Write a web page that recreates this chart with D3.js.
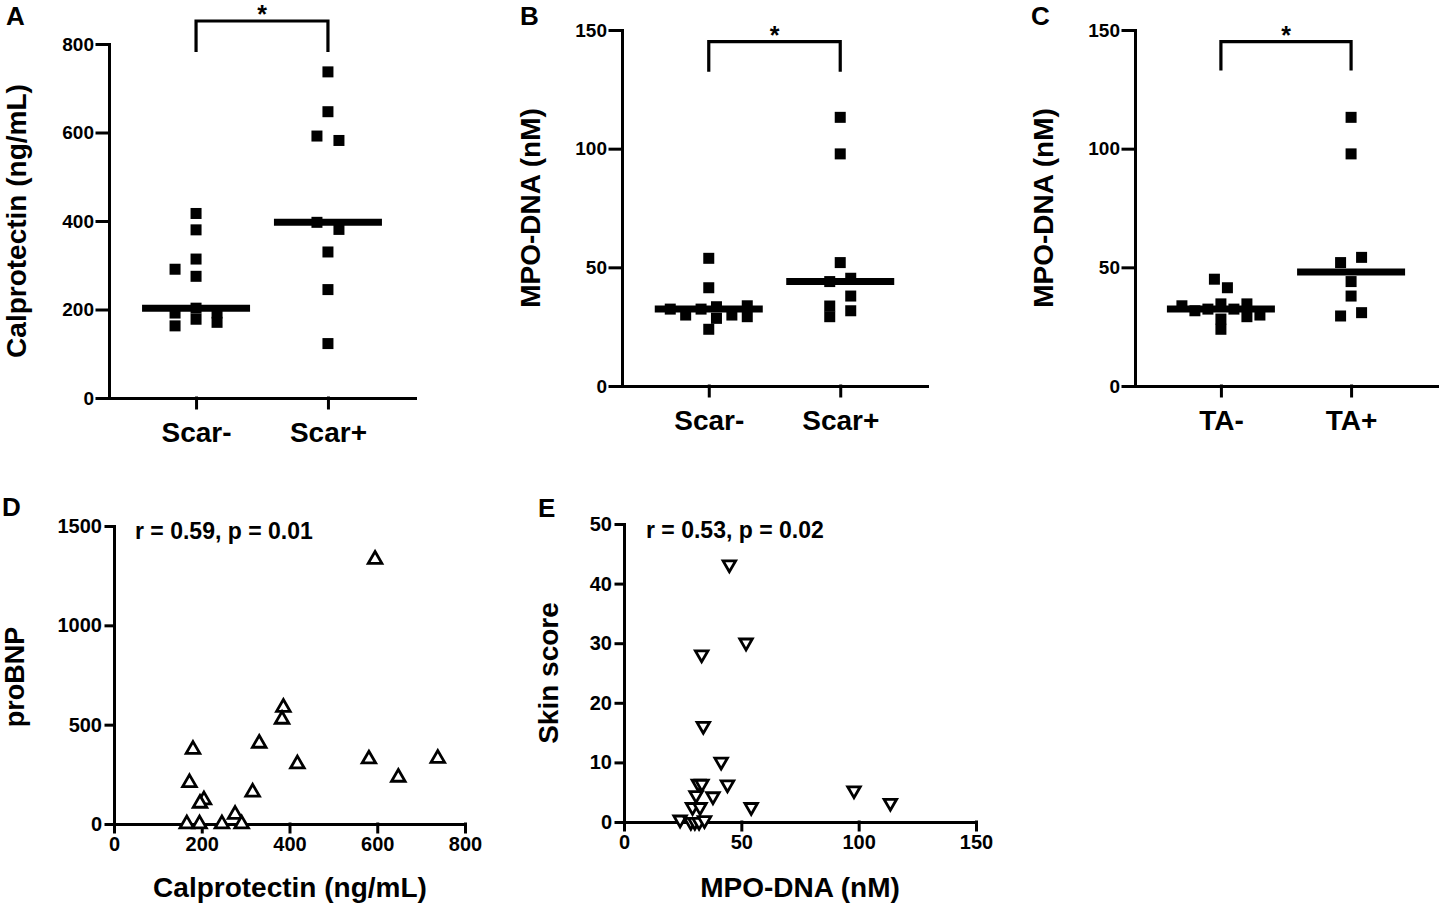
<!DOCTYPE html>
<html lang="en">
<head>
<meta charset="UTF-8">
<title>Calprotectin and MPO-DNA</title>
<script src="https://d3js.org/d3.v7.min.js"></script>
<style>
    body { margin: 0; background: #fff; }
    svg text { font-family: "Liberation Sans", Arial, sans-serif; font-weight: bold; fill: #000; }
    .axis path, .axis line { stroke: #000; stroke-width: 3; stroke-linecap: square; }
    .axis text { font-size: 19px; }
    .axis.big text { font-size: 20px; }
    .axis.cat text { font-size: 28px; }
</style>
</head>
<body>
<svg id="fig" width="1442" height="904"></svg>
<script>
// A: calprotectin, scar- / scar+
const scarGroups = ["Scar-", "Scar+"];
const calproScarNeg = [417, 380, 314, 291, 275, 203, 192, 192, 178, 171, 163];
const calproScarNegSlot = [0, 0, 0, -1, 0, 0, -1, 1, 0, 1, -1];
const calproScarPos = [737, 647, 592, 582, 397, 381, 330, 245, 123];
const calproScarPosSlot = [0, 0, -1, 1, -1, 1, 0, 0, 0];
const calproTicks = [0, 200, 400, 600, 800];

// B: MPO-DNA, scar- / scar+
const mpoScarNeg = [53.8, 41.4, 32.4, 29.9, 32.4, 33.4, 28.5, 29.9, 33.8, 29.2, 23.9];
const mpoScarNegSlot = [0, 0, -5, -3, -1, 1, 1, 3, 5, 5, 0];
const mpoScarPos = [113.2, 97.8, 52.0, 44.0, 45.4, 37.9, 33.7, 29.2, 31.7];
const mpoScarPosSlot = [0, 0, 0, -1, 1, 1, -1, -1, 1];
const mpoTicks = [0, 50, 100, 150];

// C: MPO-DNA, TA- / TA+
const taGroups = ["TA-", "TA+"];
const mpoTaNeg = [45.0, 41.4, 33.8, 31.7, 32.4, 34.6, 32.4, 34.6, 29.2, 29.9, 28.2, 23.9];
const mpoTaNegSlot = [-1, 1, -6, -4, -2, 0, 2, 4, 4, 6, 0, 0];
const mpoTaPos = [113.2, 97.8, 52.0, 54.2, 44.0, 37.9, 29.5, 30.9];
const mpoTaPosSlot = [0, 0, -1, 1, 0, 0, -1, 1];

// D: proBNP vs calprotectin
const dCalpro = [595, 386, 383, 331, 180, 418, 581, 738, 648, 172, 316, 205, 196, 276, 166, 195, 246, 291];
const dProBNP = [1332, 587, 527, 406, 375, 302, 327, 330, 235, 208, 160, 121, 104, 48, 0, 0, 0, 0];
const dXTicks = [0, 200, 400, 600, 800];
const dYTicks = [0, 500, 1000, 1500];

// E: skin score vs MPO-DNA
const eMpo = [44.9, 52.0, 33.1, 33.8, 41.4, 31.7, 33.2, 44.1, 98.0, 37.9, 30.7, 113.5, 54.2, 29.2, 32.4, 23.9, 28.5, 30.2, 32.0, 34.3];
const eSkin = [43.2, 30.1, 28.1, 16.1, 10.1, 6.4, 6.4, 6.3, 5.3, 4.3, 4.5, 3.2, 2.5, 2.5, 2.5, 0.4, 0, 0, 0, 0.3];
const eXTicks = [0, 50, 100, 150];
const eYTicks = [0, 10, 20, 30, 40, 50];

const svg = d3.select("#fig");

function letter(txt, x, y) {
    svg.append("text").attr("x", x).attr("y", y).attr("font-size", 26).text(txt);
}

function yTitle(txt, x, y, size) {
    svg.append("text")
        .attr("transform", `translate(${x},${y}) rotate(-90)`)
        .attr("text-anchor", "middle")
        .attr("font-size", size)
        .text(txt);
}

function dotPanel(cfg) {
    const y = d3.scaleLinear().domain([0, cfg.yMax]).range([cfg.bottom, cfg.top]);
    const x = d3.scalePoint().domain(cfg.groups).range([cfg.left, cfg.right]).padding(0.66);

    svg.append("g").attr("class", "axis")
        .attr("transform", `translate(${cfg.left},0)`)
        .call(d3.axisLeft(y).tickValues(cfg.ticks).tickSize(12).tickPadding(3).tickSizeOuter(0));

    svg.append("g").attr("class", "axis cat")
        .attr("transform", `translate(0,${cfg.bottom})`)
        .call(d3.axisBottom(x).tickSize(10).tickPadding(14).tickSizeOuter(0));

    cfg.series.forEach((s, gi) => {
        const g = cfg.groups[gi];
        svg.append("g").selectAll("rect")
            .data(s.values)
            .join("rect")
            .attr("x", (d, i) => x(g) + s.slots[i] * s.step - 5.5)
            .attr("y", d => y(d) - 5.5)
            .attr("width", 11)
            .attr("height", 11)
            .attr("fill", "#000");

        const med = d3.median(s.values);
        svg.append("line")
            .attr("x1", x(g) - 54).attr("x2", x(g) + 54)
            .attr("y1", y(med)).attr("y2", y(med))
            .attr("stroke", "#000").attr("stroke-width", 7);
    });

    // significance bracket
    const [lo, hi] = cfg.bracket;
    const xa = x(cfg.groups[0]), xb = x(cfg.groups[1]);
    svg.append("path")
        .attr("d", `M${xa},${y(lo)}V${y(hi)}H${xb}V${y(lo)}`)
        .attr("fill", "none").attr("stroke", "#000").attr("stroke-width", 3.2);
    svg.append("text")
        .attr("x", (xa + xb) / 2).attr("y", y(hi) + 2)
        .attr("text-anchor", "middle").attr("font-size", 25)
        .text("*");
}

function scatterPanel(cfg) {
    const x = d3.scaleLinear().domain(cfg.xDomain).range([cfg.left, cfg.right]);
    const y = d3.scaleLinear().domain(cfg.yDomain).range([cfg.bottom, cfg.top]);

    svg.append("g").attr("class", "axis big")
        .attr("transform", `translate(${cfg.left},0)`)
        .call(d3.axisLeft(y).tickValues(cfg.yTicks).tickFormat(d3.format("d"))
            .tickSize(8).tickPadding(4).tickSizeOuter(0));

    svg.append("g").attr("class", "axis big")
        .attr("transform", `translate(0,${cfg.bottom})`)
        .call(d3.axisBottom(x).tickValues(cfg.xTicks).tickFormat(d3.format("d"))
            .tickSize(8).tickPadding(5).tickSizeOuter(0));

    const sym = d3.symbol().type(d3.symbolTriangle).size(cfg.symSize);
    svg.append("g").selectAll("path")
        .data(cfg.xs)
        .join("path")
        .attr("transform", (d, i) => `translate(${x(d)},${y(cfg.ys[i])})${cfg.down ? " rotate(180)" : ""}`)
        .attr("d", sym)
        .attr("fill", "#fff")
        .attr("stroke", "#000")
        .attr("stroke-width", 2.8);

    svg.append("text")
        .attr("x", cfg.noteX).attr("y", cfg.noteY)
        .attr("font-size", 23)
        .text(cfg.note);
}

// A
letter("A", 6, 25);
dotPanel({
    groups: scarGroups, yMax: 800, ticks: calproTicks,
    left: 109, right: 415, top: 44, bottom: 398,
    series: [
        { values: calproScarNeg, slots: calproScarNegSlot, step: 21 },
        { values: calproScarPos, slots: calproScarPosSlot, step: 11 }
    ],
    bracket: [782, 852]
});
yTitle("Calprotectin (ng/mL)", 26, 221, 28);

// B
letter("B", 520, 25);
dotPanel({
    groups: scarGroups, yMax: 150, ticks: mpoTicks,
    left: 622, right: 927, top: 30, bottom: 386,
    series: [
        { values: mpoScarNeg, slots: mpoScarNegSlot, step: 7.7 },
        { values: mpoScarPos, slots: mpoScarPosSlot, step: 10.5 }
    ],
    bracket: [132.4, 145.1]
});
yTitle("MPO-DNA (nM)", 540, 208, 28);

// C
letter("C", 1031, 25);
dotPanel({
    groups: taGroups, yMax: 150, ticks: mpoTicks,
    left: 1135, right: 1437, top: 30, bottom: 386,
    series: [
        { values: mpoTaNeg, slots: mpoTaNegSlot, step: 6.5 },
        { values: mpoTaPos, slots: mpoTaPosSlot, step: 10.5 }
    ],
    bracket: [132.9, 145.1]
});
yTitle("MPO-DNA (nM)", 1053, 208, 28);

// D
letter("D", 2, 516);
scatterPanel({
    xDomain: [0, 800], yDomain: [0, 1500], xTicks: dXTicks, yTicks: dYTicks,
    left: 114, right: 465, top: 526, bottom: 824,
    xs: dCalpro, ys: dProBNP, symSize: 80, down: false,
    note: "r = 0.59, p = 0.01", noteX: 135, noteY: 539
});
yTitle("proBNP", 24, 677, 27);
svg.append("text").attr("x", 290).attr("y", 897).attr("text-anchor", "middle")
    .attr("font-size", 28).text("Calprotectin (ng/mL)");

// E
letter("E", 538, 517);
scatterPanel({
    xDomain: [0, 150], yDomain: [0, 50], xTicks: eXTicks, yTicks: eYTicks,
    left: 624, right: 976, top: 524, bottom: 822,
    xs: eMpo, ys: eSkin, symSize: 68, down: true,
    note: "r = 0.53, p = 0.02", noteX: 646, noteY: 538
});
yTitle("Skin score", 558, 673, 28);
svg.append("text").attr("x", 800).attr("y", 897).attr("text-anchor", "middle")
    .attr("font-size", 28).text("MPO-DNA (nM)");
</script>
</body>
</html>
